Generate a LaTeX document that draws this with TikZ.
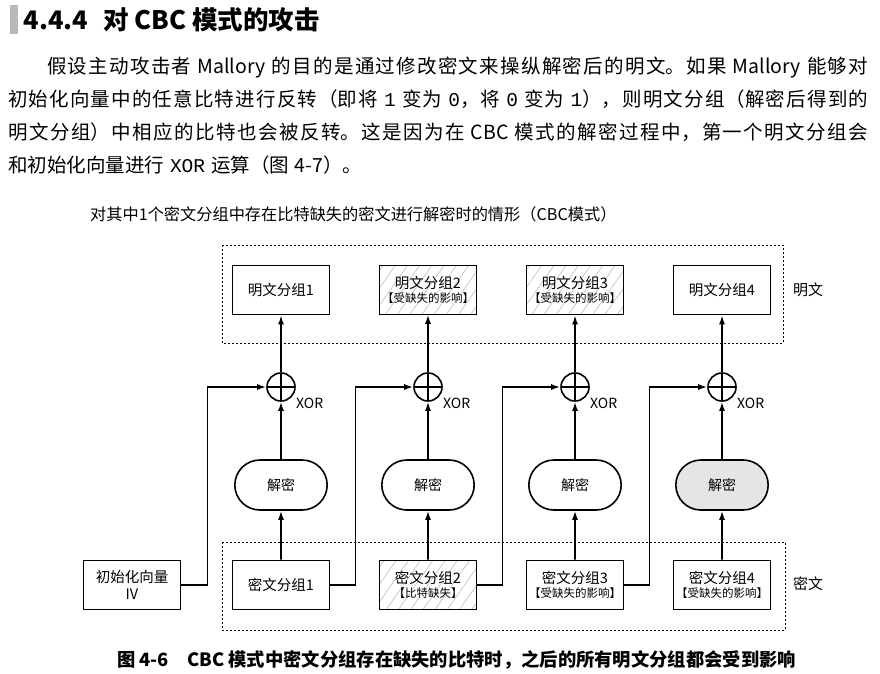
\documentclass[tikz,border=0pt]{standalone}
\usepackage{fontspec}
\setmainfont{Noto Sans CJK SC}
\newfontfamily\codefont{Liberation Mono}
\usetikzlibrary{arrows.meta, patterns.meta, shapes.misc, positioning}
\tikzset{
  >={Latex[length=9,width=6]},
  % Blocchi del diagramma
  block/.style={draw,line width=1.6pt,minimum width=97,minimum height=49,inner sep=1,align=center,font=\fontsize{14.5}{17}\selectfont},
  block hatch/.style={block,pattern={Lines[angle=55,distance=10pt,line width=0.5pt]},pattern color=gray!60},
  dec/.style={rounded rectangle,draw,line width=1.6pt,minimum width=99,minimum height=50,font=\fontsize{14}{16}\selectfont},
  xor/.style={circle,draw,line width=1.6pt,minimum size=28,inner sep=0,
    path picture={\draw[line width=1.6pt] (path picture bounding box.north) -- (path picture bounding box.south)
      (path picture bounding box.west) -- (path picture bounding box.east);}},
  xor label/.style={anchor=west,inner sep=0,font=\fontsize{14}{16}\selectfont},
  % Connessioni
  connect arrow/.style={->,line width=1.6pt},
  zone/.style={line width=0.7pt,dash pattern=on 2pt off 2pt},
  side label/.style={font=\fontsize{15}{17}\selectfont}
}
\newcommand{\hurt}[1]{\\[-3pt]{\fontsize{11.5}{13}\selectfont #1}}
\newcommand{\cjkstretch}{\XeTeXlinebreaklocale "zh"\XeTeXlinebreakskip=0pt plus 4pt\spaceskip=0.3em plus 1pt minus 1pt}

\begin{document}
\begin{tikzpicture}[x=1pt,y=-1pt]
  \useasboundingbox (0,0) rectangle (880,673);
  % titolo della sezione e testo
  \fill[gray!55] (10,5) rectangle (18,34);
  \node[anchor=west,font=\bfseries\fontsize{25.5}{27}\selectfont] (head) at (20,20) {4.4.4\hspace{0.6em}对 CBC 模式的攻击};
  \node[anchor=north west,text width=860,align=justify,inner sep=0,
    font=\fontsize{19.5}{33}\selectfont] (para) at (8,57)
    {\cjkstretch\hspace*{2em}假设主动攻击者 Mallory 的目的是通过修改密文来操纵解密后的明文。如果 Mallory 能够对\linebreak
     初始化向量中的任意比特进行反转（即将 {\codefont 1} 变为 {\codefont 0}，将 {\codefont 0} 变为 {\codefont 1}），则明文分组（解密后得到的\linebreak
     明文分组）中相应的比特也会被反转。这是因为在 CBC 模式的解密过程中，第一个明文分组会\linebreak
     和初始化向量进行 {\codefont XOR} 运算（图 4-7）。};
  \node[anchor=west,inner sep=0,font=\fontsize{16.2}{18}\selectfont] (title) at (90,214)
    {对其中1个密文分组中存在比特缺失的密文进行解密时的情形（CBC模式）};

  % zone tratteggiate
  \draw[zone] (222,245) rectangle (783,343);
  \draw[zone] (222,542) rectangle (785,630);
  \node[side label] (ptlabel) at (808,290) {明文};
  \node[side label] (ctlabel) at (808,584) {密文};

  % blocchi di testo in chiaro
  \node[block] (p1) at (281,290) {明文分组1};
  \node[block hatch] (p2) at (428,290) {明文分组2\hurt{【受缺失的影响】}};
  \node[block hatch] (p3) at (575,290) {明文分组3\hurt{【受缺失的影响】}};
  \node[block] (p4) at (722,290) {明文分组4};

  % XOR
  \foreach \i/\xx in {1/281,2/428,3/575,4/722} {
    \node[xor] (x\i) at (\xx,387) {};
    \node[xor label] (xl\i) at ([shift={(15,16)}]x\i.center) {XOR};
  }

  % decifratura
  \node[dec] (d1) at (281,485) {解密};
  \node[dec] (d2) at (428,485) {解密};
  \node[dec] (d3) at (575,485) {解密};
  \node[dec,fill=gray!20] (d4) at (722,485) {解密};

  % blocchi cifrati
  \node[block] (iv) at (132,585) {初始化向量\\IV};
  \node[block] (c1) at (281,585) {密文分组1};
  \node[block hatch] (c2) at (428,585) {密文分组2\hurt{【比特缺失】}};
  \node[block] (c3) at (575,585) {密文分组3\hurt{【受缺失的影响】}};
  \node[block] (c4) at (722,585) {密文分组4\hurt{【受缺失的影响】}};

  \foreach \i in {1,...,4} {
    \draw[connect arrow] (c\i) -- (d\i);
    \draw[connect arrow] (d\i) -- (x\i);
    \draw[connect arrow] (x\i) -- (p\i);
  }
  \draw[connect arrow] (iv.east) -- ++(26,0) |- (x1.west);
  \foreach \a/\b in {c1/x2,c2/x3,c3/x4}
    \draw[connect arrow] (\a.east) -- ++(25,0) |- (\b.west);

  \node[anchor=west,inner sep=0,font=\bfseries\fontsize{18.3}{20}\selectfont] (caption) at (117,660)
    {图 4-6\hspace{1em}CBC 模式中密文分组存在缺失的比特时，之后的所有明文分组都会受到影响};
\end{tikzpicture}
\end{document}
